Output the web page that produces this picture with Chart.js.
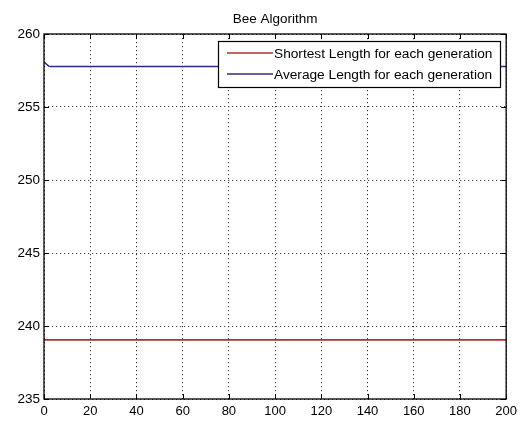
<!DOCTYPE html>
<html>
<head>
<meta charset="utf-8">
<script src="https://cdn.jsdelivr.net/npm/chart.js@4"></script>
<style>
html,body{margin:0;padding:0;background:#fff;}
#wrap{width:522px;height:421px;}
</style>
</head>
<body>
<div id="wrap"><canvas id="c" width="522" height="421"></canvas></div>
<script>
const chartTitle = "Bee Algorithm";
const seriesNames = ["Shortest Length for each generation", "Average Length for each generation"];
const shortestX = [0, 200];
const shortestY = [239.05, 239.05];
const averageX = [0, 1, 2, 3, 200];
const averageY = [258.1, 257.95, 257.8, 257.77, 257.77];
const xTicks = [0, 20, 40, 60, 80, 100, 120, 140, 160, 180, 200];
const yTicks = [235, 240, 245, 250, 255, 260];
const colors = ["#b0302f", "#2b2b85"];

const toPts = (xs, ys) => xs.map((x, i) => ({x: x, y: ys[i]}));

const FONT = "'Liberation Sans', Arial, sans-serif";

const boxPlugin = {
  id: 'boxPlugin',
  afterDraw(chart) {
    const ctx = chart.ctx;
    const a = chart.chartArea;
    const xs = chart.scales.x, ys = chart.scales.y;
    ctx.save();
    // title
    ctx.fillStyle = '#000';
    ctx.font = "13.5px " + FONT;
    ctx.textAlign = 'center';
    ctx.textBaseline = 'middle';
    ctx.fillText(chartTitle, (a.left + a.right) / 2, 19.5);
    ctx.strokeStyle = '#000';
    ctx.lineWidth = 1;
    // inward ticks
    ctx.beginPath();
    xTicks.forEach(v => {
      const px = Math.round(xs.getPixelForValue(v)) + 0.5;
      ctx.moveTo(px, a.bottom); ctx.lineTo(px, a.bottom - 5);
      ctx.moveTo(px, a.top); ctx.lineTo(px, a.top + 5);
    });
    yTicks.forEach(v => {
      const py = Math.round(ys.getPixelForValue(v)) + 0.5;
      ctx.moveTo(a.left, py); ctx.lineTo(a.left + 5, py);
      ctx.moveTo(a.right, py); ctx.lineTo(a.right - 5, py);
    });
    ctx.stroke();
    ctx.lineWidth = 1.3;
    ctx.strokeRect(a.left, a.top, a.right - a.left, a.bottom - a.top);
    // legend
    const lx = 218, ly = 41, lw = 282, lh = 46;
    ctx.fillStyle = '#fff';
    ctx.fillRect(lx, ly, lw, lh);
    ctx.lineWidth = 1.2;
    ctx.strokeStyle = '#000';
    ctx.strokeRect(lx + 0.5, ly + 0.5, lw, lh);
    ctx.font = "13.7px " + FONT;
    ctx.textBaseline = 'middle';
    ctx.textAlign = 'left';
    chart.data.datasets.forEach((ds, i) => {
      const yy = ly + 12 + i * 21;
      ctx.strokeStyle = ds.borderColor;
      ctx.lineWidth = 1.5;
      ctx.beginPath();
      ctx.moveTo(lx + 9, yy); ctx.lineTo(lx + 55, yy);
      ctx.stroke();
      ctx.fillStyle = '#000';
      ctx.fillText(ds.label, lx + 56, yy + 1);
    });
    ctx.restore();
  }
};

new Chart(document.getElementById('c'), {
  type: 'line',
  data: {
    datasets: [
      {label: seriesNames[0], data: toPts(shortestX, shortestY), borderColor: colors[0], borderWidth: 1.6, pointRadius: 0, tension: 0, fill: false},
      {label: seriesNames[1], data: toPts(averageX, averageY), borderColor: colors[1], borderWidth: 1.5, pointRadius: 0, tension: 0, fill: false}
    ]
  },
  options: {
    responsive: false,
    animation: false,
    layout: {padding: {left: 0, right: 14, top: 34, bottom: 0}},
    plugins: {
      legend: {display: false},
      tooltip: {enabled: false},
      title: {display: false}
    },
    scales: {
      x: {
        type: 'linear', min: 0, max: 200,
        afterBuildTicks(s) { s.ticks = xTicks.map(v => ({value: v})); },
        afterFit(s) { s.height = 22; },
        grid: {color: '#3a3a3a', lineWidth: 1, drawTicks: false},
        border: {display: false, dash: [1.2, 2.8]},
        ticks: {color: '#000', font: {family: FONT, size: 13}, padding: 5, maxRotation: 0, autoSkip: false}
      },
      y: {
        type: 'linear', min: 235, max: 260,
        afterBuildTicks(s) { s.ticks = yTicks.map(v => ({value: v})); },
        afterFit(s) { s.width = 44; },
        grid: {color: '#3a3a3a', lineWidth: 1, drawTicks: false},
        border: {display: false, dash: [1.2, 2.8]},
        ticks: {color: '#000', font: {family: FONT, size: 13.5}, padding: 4, autoSkip: false}
      }
    }
  },
  plugins: [boxPlugin]
});
</script>
</body>
</html>
